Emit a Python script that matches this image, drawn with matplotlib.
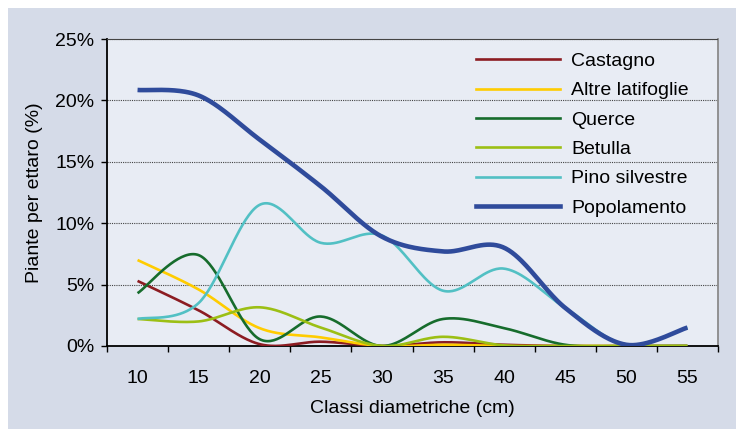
import numpy as np
import matplotlib
matplotlib.use('Agg')
import matplotlib.pyplot as plt
from matplotlib.patches import Rectangle
from matplotlib.lines import Line2D

plt.rcParams['font.family'] = ['Liberation Sans', 'DejaVu Sans']

# Classi diametriche (cm) and percentage of plants per hectare
classi = [10, 15, 20, 25, 30, 35, 40, 45, 50, 55]
castagno = [5.3, 2.9, 0.15, 0.35, 0.0, 0.3, 0.1, 0.0, 0.0, 0.0]
altre_latifoglie = [7.0, 4.6, 1.45, 0.7, 0.0, 0.1, 0.0, 0.0, 0.0, 0.0]
querce = [4.3, 7.4, 0.55, 2.4, 0.0, 2.2, 1.45, 0.1, 0.0, 0.0]
betulla = [2.2, 2.0, 3.15, 1.5, 0.0, 0.75, 0.05, 0.0, 0.0, 0.0]
pino_silvestre = [2.2, 3.5, 11.5, 8.4, 9.0, 4.5, 6.3, 3.1, 0.1, 1.5]
popolamento = [20.85, 20.4, 16.8, 13.0, 8.9, 7.7, 8.0, 3.1, 0.1, 1.5]

series = [
    ('Castagno', castagno, '#8c1c22', 1.9),
    ('Altre latifoglie', altre_latifoglie, '#ffcc00', 1.9),
    ('Querce', querce, '#166c2c', 1.9),
    ('Betulla', betulla, '#9cbf14', 1.9),
    ('Pino silvestre', pino_silvestre, '#52c0c4', 1.9),
    ('Popolamento', popolamento, '#2f4b9b', 3.3),
]


def smooth(x, y, n=40):
    # Excel-style smoothed line (Catmull-Rom through the points)
    x = np.asarray(x, float)
    y = np.asarray(y, float)
    px = np.concatenate([[x[0]], x, [x[-1]]])
    py = np.concatenate([[y[0]], y, [y[-1]]])
    t = np.linspace(0, 1, n)
    xs, ys = [], []
    for i in range(1, len(px) - 2):
        p0 = np.array([px[i], py[i]])
        p3 = np.array([px[i + 1], py[i + 1]])
        c1 = p0 + (np.array([px[i + 1], py[i + 1]]) - np.array([px[i - 1], py[i - 1]])) / 6
        c2 = p3 - (np.array([px[i + 2], py[i + 2]]) - np.array([px[i], py[i]])) / 6
        b = ((1 - t) ** 3)[:, None] * p0 + (3 * (1 - t) ** 2 * t)[:, None] * c1 \
            + (3 * (1 - t) * t ** 2)[:, None] * c2 + (t ** 3)[:, None] * p3
        xs.append(b[:, 0])
        ys.append(b[:, 1])
    return np.concatenate(xs), np.concatenate(ys)


fig = plt.figure(figsize=(7.36, 4.29), dpi=100, facecolor='white')
fig.patches.append(Rectangle((8 / 736, 0), 1, 1 - 8 / 429, transform=fig.transFigure,
                             facecolor='#d5dbe8', edgecolor='none', zorder=-10))
ax = fig.add_axes([107 / 736, 1 - 346 / 429, 611 / 736, 307 / 429])
ax.set_facecolor('#e8ecf4')

pos = np.arange(len(classi))
handles = []
for name, vals, color, lw in series:
    sx, sy = smooth(pos, vals)
    ax.plot(sx, sy, color=color, lw=lw, solid_capstyle='butt', zorder=3)
    handles.append(Line2D([], [], color=color, lw=lw))

ax.set_xlim(-0.5, len(classi) - 0.5)
ax.set_ylim(0, 25)

# y axis
ax.set_yticks(range(0, 26, 5))
ax.set_yticklabels([f'{v}%' for v in range(0, 26, 5)])
ax.grid(axis='y', color='#444444', linestyle=(0, (1, 1)), lw=0.8)
ax.tick_params(axis='y', length=4, width=1, pad=5, labelsize=14, colors='black')

# x axis: labels at category centres, tick marks between categories
ax.set_xticks(pos)
ax.set_xticklabels([str(c) for c in classi])
ax.set_xticks(np.arange(-0.5, len(classi)), minor=True)
ax.tick_params(axis='x', which='major', length=0, pad=17, labelsize=14)
ax.tick_params(axis='x', which='minor', length=4, width=1)

for s in ['left', 'bottom']:
    ax.spines[s].set_color('black')
    ax.spines[s].set_linewidth(1.3)
ax.spines['top'].set_color('#444444')
ax.spines['top'].set_linestyle((0, (1, 1)))
ax.spines['top'].set_linewidth(0.8)
ax.spines['right'].set_color('#8a8a8a')
ax.spines['right'].set_linewidth(1.3)

ax.set_xlabel('Classi diametriche (cm)', fontsize=14)
ax.xaxis.set_label_coords(0.5, -0.175)
ax.set_ylabel('Piante per ettaro (%)', fontsize=14)
ax.yaxis.set_label_coords(-0.105, 0.5)

ax.legend(handles, [s[0] for s in series], loc='upper left', bbox_to_anchor=(0.582, 1.0),
          frameon=False, fontsize=14, handlelength=4.3, handletextpad=0.57,
          labelspacing=0.6, borderaxespad=0.3)

fig.savefig('out.png', dpi=100)
